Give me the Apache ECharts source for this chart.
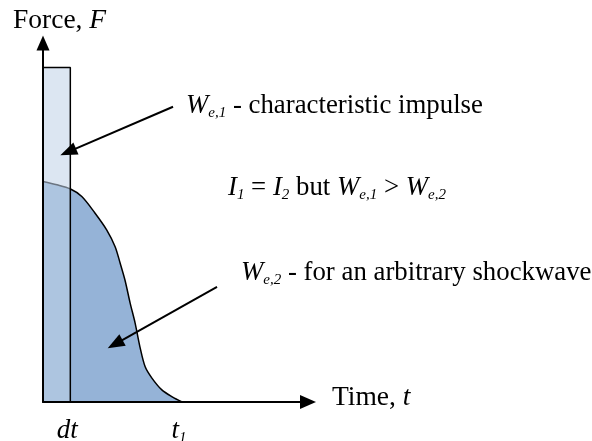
<!DOCTYPE html>
<html>
<head>
<meta charset="utf-8">
<script src="https://cdn.jsdelivr.net/npm/echarts@6/dist/echarts.min.js"></script>
<style>
    html, body { margin: 0; padding: 0; background: #fff; }
    #chart { width: 592px; height: 441px; }
</style>
</head>
<body>
<div id="chart"></div>
<script>
const serif = '"Liberation Serif", "Times New Roman", serif';

// characteristic impulse, a block of width dt
const rectTime = [0, 0, 10, 10];
const rectForce = [0, 91.3, 91.3, 0];

// arbitrary shockwave
const waveTime = [0, 5.1, 9.9, 14.2, 19.0, 23.3, 26.4, 28.2, 30.0, 31.9, 33.7, 35.5, 37.4, 39.8, 43.5, 47.3, 50.9];
const waveForce = [60.2, 59.3, 58.2, 56.1, 51.6, 47.0, 42.4, 38.0, 33.3, 27.0, 21.6, 15.0, 9.6, 6.6, 3.3, 1.4, 0];

// x axis marks
const tickValues = [10, 50.9];
const tickLabels = ['{i|dt}', '{i|t}{s|1}'];

// pointer arrows [from, to]
const arrowImpulse = [[47.6, 80.6], [9.2, 68.3]];
const arrowShock = [[63.7, 31.4], [26.4, 15.8]];

const pairs = (xs, ys) => xs.map((x, i) => [x, ys[i]]);

function richFor(size, subLine) {
    return {
        i: { fontFamily: serif, fontSize: size, fontStyle: 'italic', lineHeight: 30, color: '#000' },
        s: { fontFamily: serif, fontSize: 15, fontStyle: 'italic', lineHeight: subLine || 16, verticalAlign: 'bottom', color: '#000' }
    };
}

function note(x, y, text) {
    return {
        type: 'text',
        x: x,
        y: y,
        style: {
            text: text,
            rich: richFor(26.8),
            font: '26.8px ' + serif,
            lineHeight: 30,
            fill: '#000',
            textAlign: 'left',
            textVerticalAlign: 'middle'
        }
    };
}

const chart = echarts.init(document.getElementById('chart'));
chart.setOption({
    animation: false,
    title: {
        text: 'Force, {i|F}',
        left: 13,
        top: 6,
        padding: 0,
        textStyle: { fontFamily: serif, fontSize: 27.5, fontWeight: 'normal', color: '#000', lineHeight: 26, rich: richFor(27.5) }
    },
    grid: { left: 43, top: 43, width: 265, height: 359, outerBoundsMode: 'none' },
    xAxis: {
        type: 'value',
        min: 0,
        max: 97,
        z: 10,
        name: 'Time, {i|t}',
        nameLocation: 'end',
        nameGap: 24,
        nameTextStyle: {
            fontFamily: serif, fontSize: 27.5, color: '#000', lineHeight: 30,
            verticalAlign: 'middle', padding: [0, 0, 8, 0], rich: richFor(27.5)
        },
        axisLine: { lineStyle: { color: '#000', width: 2 }, symbol: ['none', 'triangle'], symbolSize: [14, 16] },
        axisTick: { show: false },
        splitLine: { show: false },
        axisLabel: {
            customValues: tickValues,
            margin: 14,
            padding: [0, 6, 0, 0],
            formatter: v => tickLabels[tickValues.indexOf(v)],
            rich: richFor(27, 22)
        }
    },
    yAxis: {
        type: 'value',
        min: 0,
        max: 98,
        z: 10,
        axisLine: { show: true, lineStyle: { color: '#000', width: 2 }, symbol: ['none', 'triangle'], symbolSize: [13, 15] },
        axisTick: { show: false },
        axisLabel: { show: false },
        splitLine: { show: false }
    },
    series: [
        {
            type: 'line',
            data: pairs(waveTime, waveForce),
            smooth: 0.3,
            showSymbol: false,
            z: 2,
            lineStyle: { color: '#000', width: 1.5 },
            areaStyle: { color: '#95b3d7', opacity: 1 },
            markLine: {
                silent: true,
                symbol: ['none', 'triangle'],
                symbolSize: [13, 17],
                label: { show: false },
                lineStyle: { color: '#000', width: 2, type: 'solid' },
                data: [
                    [{ coord: arrowImpulse[0] }, { coord: arrowImpulse[1] }],
                    [{ coord: arrowShock[0] }, { coord: arrowShock[1] }]
                ]
            }
        },
        {
            type: 'line',
            data: pairs(rectTime, rectForce),
            showSymbol: false,
            z: 3,
            lineStyle: { color: '#000', width: 1.5 },
            areaStyle: { color: 'rgba(192,210,232,0.56)', opacity: 1 }
        }
    ],
    graphic: [
        note(186, 106, '{i|W}{s|e,1} - characteristic impulse'),
        note(228, 188, '{i|I}{s|1} = {i|I}{s|2} but {i|W}{s|e,1} > {i|W}{s|e,2}'),
        note(241, 273, '{i|W}{s|e,2} - for an arbitrary shockwave')
    ]
});
</script>
</body>
</html>
